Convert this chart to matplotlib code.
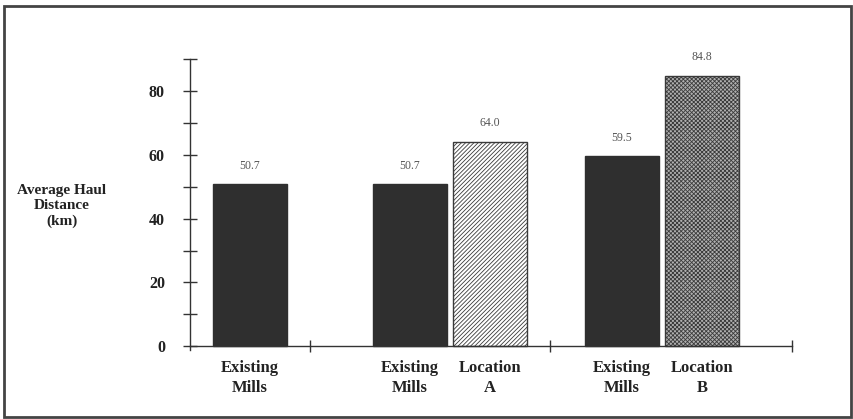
import matplotlib
matplotlib.use("Agg")
import matplotlib.pyplot as plt
from matplotlib.patches import Rectangle

# ---- data ----
categories = ["Existing\nMills", "Existing\nMills", "Location\nA", "Existing\nMills", "Location\nB"]
values = [50.7, 50.7, 64.0, 59.5, 84.8]
value_labels = ["50.7", "50.7", "64.0", "59.5", "84.8"]
kinds = ["existing", "existing", "locA", "existing", "locB"]
y_major = [0, 20, 40, 60, 80]
y_minor = [10, 30, 50, 70, 90]
y_label = "Average Haul\nDistance\n(km)"

# ---- layout (positions in x units) ----
positions = [1.5, 5.5, 7.5, 10.8, 12.8]
separators = [3, 9, 15.05]
bar_width = 1.85

W, H = 854, 419
plt.rcParams['font.family'] = ['Liberation Serif', 'DejaVu Serif']
plt.rcParams['hatch.linewidth'] = 0.6

fig = plt.figure(figsize=(W / 100, H / 100), dpi=100)
fig.patch.set_facecolor('white')

ax_left, ax_right = 190, 792
y0_px, y90_px = 346.3, 59.0
ymin = -1.3
px_per_unit = (y0_px - y90_px) / 90.0
bottom_px = y0_px + (-ymin) * px_per_unit
ax = fig.add_axes([ax_left / W, 1 - bottom_px / H, (ax_right - ax_left) / W,
                   (bottom_px - y90_px) / H])
ax.set_xlim(0, 15.05)
ax.set_ylim(ymin, 90)

dark = '#2f2f2f'
styles = {
    'existing': dict(facecolor=dark, edgecolor=dark, hatch=None),
    'locA': dict(facecolor='white', edgecolor='#3a3a3a', hatch='////////'),
    'locB': dict(facecolor='#b0b0b0', edgecolor='#3a3a3a', hatch='xxxxxxxx'),
}
for x, v, k in zip(positions, values, kinds):
    st = styles[k]
    ax.bar(x, v, width=bar_width, bottom=0, color=st['facecolor'],
           edgecolor=st['edgecolor'], hatch=st['hatch'], linewidth=1.0, zorder=2)

for x, v, lab in zip(positions, values, value_labels):
    ax.annotate(lab, xy=(x, v), xytext=(0, 13.5), textcoords='offset points',
                ha='center', va='center', fontsize=8.5, color='#555555')

for s in ['top', 'right']:
    ax.spines[s].set_visible(False)
ax.spines['bottom'].set_position(('data', 0))
ax.spines['left'].set_color('#333333')
ax.spines['bottom'].set_color('#333333')
ax.spines['left'].set_linewidth(1.0)
ax.spines['bottom'].set_linewidth(1.0)

ax.set_yticks(y_major)
ax.set_yticklabels([str(v) for v in y_major], fontsize=11.5, fontweight='bold', color='#222222')
ax.set_yticks(y_minor, minor=True)
ax.tick_params(axis='y', which='both', direction='inout', length=10, width=1.0,
               color='#333333', pad=13)

ax.set_xticks(separators)
ax.set_xticklabels(['', '', ''])
ax.tick_params(axis='x', which='major', direction='inout', length=8, width=1.0, color='#333333')
ax.set_xticks(positions, minor=True)
ax.set_xticklabels(categories, minor=True, fontsize=12, fontweight='bold', color='#222222',
                   linespacing=1.35)
ax.tick_params(axis='x', which='minor', length=0, pad=10)

ax.patch.set_alpha(0)

fig.text(62 / W, 1 - 206 / H, y_label, ha='center', va='center', fontsize=11,
         fontweight='bold', color='#222222', linespacing=1.25)

frame = Rectangle((4.5 / W, 1 - 417 / H), (851.5 - 4.5) / W, (417 - 6.5) / H,
                  transform=fig.transFigure, fill=False, edgecolor='#444444', linewidth=2.0)
fig.patches.append(frame)

fig.savefig('out.png', dpi=100)
